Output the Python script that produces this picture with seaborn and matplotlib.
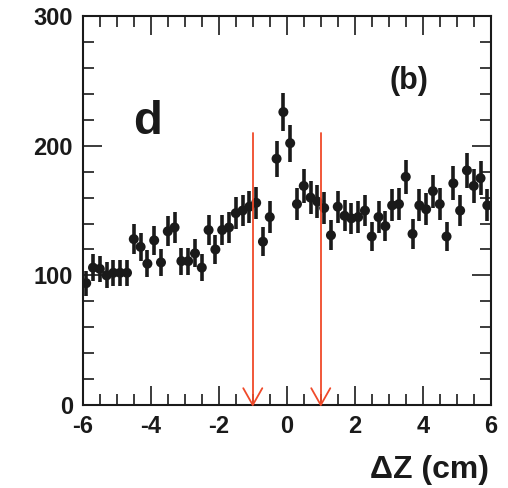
import numpy as np
import pandas as pd
import matplotlib
matplotlib.use("Agg")
import matplotlib.pyplot as plt
import seaborn as sns
from matplotlib.ticker import MultipleLocator

# bin centres (cm) and counts
dz = [-5.9, -5.7, -5.5, -5.3, -5.1, -4.9, -4.7, -4.5, -4.3, -4.1,
      -3.9, -3.7, -3.5, -3.3, -3.1, -2.9, -2.7, -2.5, -2.3, -2.1,
      -1.9, -1.7, -1.5, -1.3, -1.1, -0.9, -0.7, -0.5, -0.3, -0.1,
      0.1, 0.3, 0.5, 0.7, 0.9, 1.1, 1.3, 1.5, 1.7, 1.9,
      2.1, 2.3, 2.5, 2.7, 2.9, 3.1, 3.3, 3.5, 3.7, 3.9,
      4.1, 4.3, 4.5, 4.7, 4.9, 5.1, 5.3, 5.5, 5.7, 5.9]
counts = [94, 106, 105, 100, 102, 102, 102, 128, 122, 109,
          127, 110, 134, 137, 111, 111, 117, 106, 135, 120,
          135, 137, 148, 150, 153, 156, 126, 145, 190, 226,
          202, 155, 169, 160, 157, 152, 131, 153, 146, 144,
          145, 150, 130, 145, 138, 154, 155, 176, 132, 154,
          151, 165, 155, 130, 171, 150, 181, 169, 175, 154]
errors = [9.7, 10.3, 10.2, 10.0, 10.1, 10.1, 10.1, 11.3, 11.0, 10.4,
          11.3, 10.5, 11.6, 11.7, 10.5, 10.5, 10.8, 10.3, 11.6, 11.0,
          11.6, 11.7, 12.2, 12.2, 12.4, 12.5, 11.2, 12.0, 13.8, 15.0,
          14.2, 12.4, 13.0, 12.6, 12.5, 12.3, 11.4, 12.4, 12.1, 12.0,
          12.0, 12.2, 11.4, 12.0, 11.7, 12.4, 12.4, 13.3, 11.5, 12.4,
          12.3, 12.8, 12.4, 11.4, 13.1, 12.2, 13.5, 13.0, 13.2, 12.4]
cut_edges = [-1.0, 1.0]
cut_top = 210

df = pd.DataFrame({"dz": dz, "counts": counts, "err": errors})

sns.set_style("ticks")
plt.rcParams["font.family"] = ["Liberation Sans", "DejaVu Sans"]
plt.rcParams["font.weight"] = "bold"
plt.rcParams["axes.unicode_minus"] = False

fig = plt.figure(figsize=(5.08, 4.88), dpi=100)
ax = fig.add_axes([0.163, 0.170, 0.803, 0.797])

ax.errorbar(df["dz"], df["counts"], yerr=df["err"], fmt="none",
            ecolor="#1a1a1a", elinewidth=2.6, capsize=0, zorder=2)
sns.scatterplot(data=df, x="dz", y="counts", ax=ax, color="#1a1a1a",
                s=52, edgecolor="none", zorder=3, legend=False)

# cut arrows
for xc in cut_edges:
    ax.plot([xc, xc], [cut_top, 0], color="#f04a2a", lw=1.3, zorder=4)
    ax.plot([xc - 0.28, xc, xc + 0.28], [13, 0, 13], color="#f04a2a",
            lw=1.3, zorder=4, clip_on=False)

ax.set_xlim(-6, 6)
ax.set_ylim(0, 300)
ax.xaxis.set_major_locator(MultipleLocator(2))
ax.xaxis.set_minor_locator(MultipleLocator(0.5))
ax.yaxis.set_major_locator(MultipleLocator(100))
ax.yaxis.set_minor_locator(MultipleLocator(20))
ax.tick_params(which="both", direction="in", top=True, right=True,
               width=1.2, colors="#1a1a1a")
ax.tick_params(which="major", length=14, labelsize=17, pad=7)
ax.tick_params(which="minor", length=8)
for lab in ax.get_xticklabels() + ax.get_yticklabels():
    lab.set_fontweight("bold")
for sp in ax.spines.values():
    sp.set_linewidth(1.5)
    sp.set_color("#1a1a1a")

ax.set_xlabel("")
ax.set_ylabel("")
ax.text(-4.1, 218, "d", fontsize=34, fontweight="bold", ha="center",
        va="center", color="#1a1a1a")
ax.text(3.6, 250, "(b)", fontsize=22, fontweight="bold", ha="center",
        va="center", color="#1a1a1a")
fig.text(0.962, 0.036, "\u0394Z (cm)", fontsize=23, fontweight="bold",
         ha="right", va="center", color="#1a1a1a")

fig.savefig("out.png", dpi=100)
